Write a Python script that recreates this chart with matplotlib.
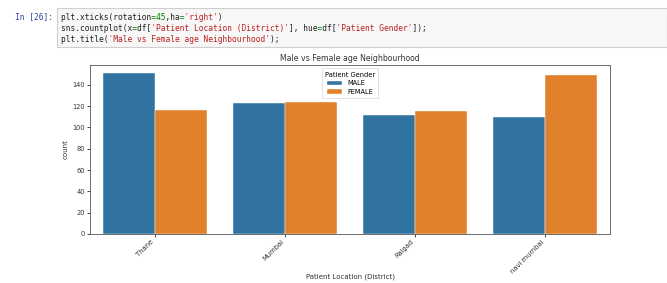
import matplotlib
matplotlib.use("Agg")
import matplotlib.pyplot as plt
from matplotlib.patches import Rectangle
import numpy as np

categories = ["Thane", "Mumbai", "Raigad", "navi mumbai"]
hue_labels = ["MALE", "FEMALE"]
male_counts = [151, 123, 112, 110]
female_counts = [116, 124, 115, 149]
yticks = [0, 20, 40, 60, 80, 100, 120, 140]

colors = ["#3274A1", "#E1812C"]

W, H = 667, 283
fig = plt.figure(figsize=(W / 100, H / 100), dpi=100)

def px(x, y):
    return x / W, 1 - y / H

# code cell
x0, y0 = px(57, 47)
x1, y1 = px(667, 8)
fig.patches.append(Rectangle((x0, y0), x1 - x0, y1 - y0, transform=fig.transFigure,
                             facecolor="#f7f7f7", edgecolor="#cfcfcf", lw=0.8))
fig.text(*px(15, 17), "In [26]:", color="#303F9F", fontsize=5.7,
         family="DejaVu Sans Mono", va="center", ha="left")

fs = 5.7
K, G, R = "#222222", "#008000", "#BA2121"
code_lines = [
    [("plt.xticks(rotation", K), ("=", G), ("45", G), (",ha", K),
     ("=", G), ("'right'", R), (")", K)],
    [("sns.countplot(x", K), ("=", G), ("df[", K),
     ("'Patient Location (District)'", R), ("], hue", K), ("=", G),
     ("df[", K), ("'Patient Gender'", R), ("]);", K)],
    [("plt.title(", K), ("'Male vs Female age Neighbourhood'", R), (");", K)],
]
for i, line in enumerate(code_lines):
    y = 17 + i * 11.5
    for col in (K, G, R):
        s = "".join(tok if c == col else " " * len(tok) for tok, c in line)
        fig.text(*px(61, y), s, color=col, fontsize=fs,
                 family="DejaVu Sans Mono", va="center", ha="left")

# chart
al, at, ar, ab = 90, 65, 610, 234
ax = fig.add_axes([al / W, 1 - ab / H, (ar - al) / W, (ab - at) / H])
x = np.arange(len(categories))
w = 0.4
ax.bar(x - w / 2, male_counts, w, color=colors[0], label=hue_labels[0], edgecolor="white", linewidth=0.3)
ax.bar(x + w / 2, female_counts, w, color=colors[1], label=hue_labels[1], edgecolor="white", linewidth=0.3)
ax.set_xlim(-0.5, len(categories) - 0.5)
ax.set_ylim(0, max(male_counts + female_counts) * 1.05)
ax.set_yticks(yticks)
ax.set_xticks(x)
ax.set_xticklabels(categories, rotation=45, ha="right", fontsize=4.9, color="#333333")
ax.tick_params(axis="y", labelsize=4.8, labelcolor="#333333", length=2, width=0.5, pad=1.5)
ax.tick_params(axis="x", length=2, width=0.5, pad=1.5)
for s in ax.spines.values():
    s.set_linewidth(0.6)
    s.set_color("#555555")
ax.set_ylabel("count", fontsize=5, color="#333333", labelpad=3)
ax.set_xlabel("Patient Location (District)", fontsize=5, color="#333333")
ax.xaxis.set_label_coords(0.5, (ab - 277) / (ab - at))
ax.xaxis.label.set_va("center")
ax.set_title("Male vs Female age Neighbourhood", fontsize=5.6, color="#333333", pad=3)
leg = ax.legend(title="Patient Gender", loc="upper center", fontsize=4.8, title_fontsize=4.8,
                handlelength=2.2, handleheight=0.7, borderpad=0.5, labelspacing=0.4,
                frameon=True, framealpha=0.8)
leg.get_frame().set_linewidth(0.5)

fig.savefig("out.png", dpi=100)
